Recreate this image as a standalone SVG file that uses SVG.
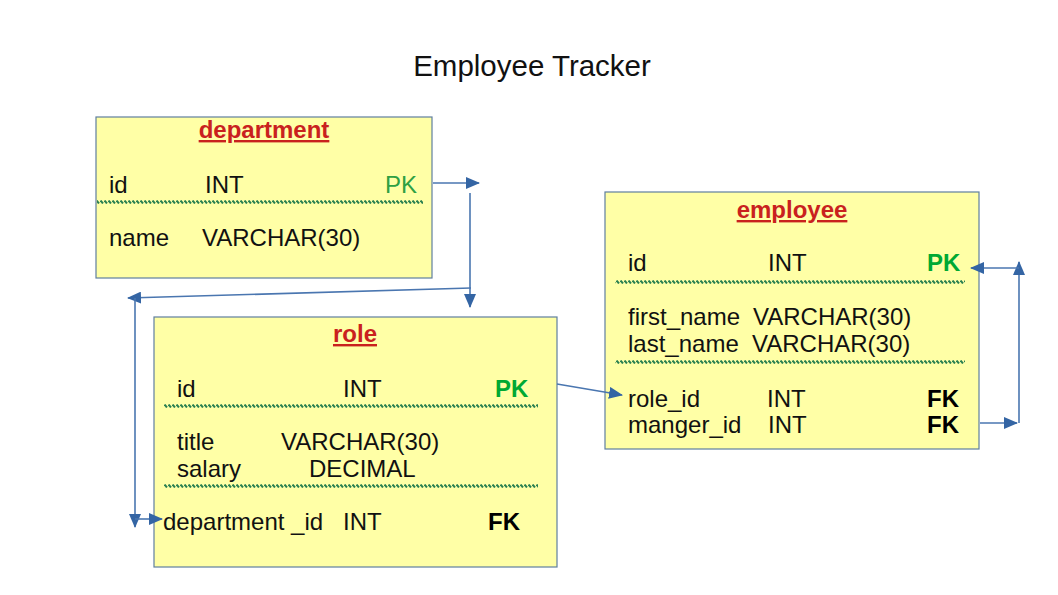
<svg xmlns="http://www.w3.org/2000/svg" width="1058" height="595" viewBox="0 0 1058 595">
<defs>
<style>
.box{fill:#ffffa6;stroke:#5f7f9f;stroke-width:1.2}
.t{font-family:"Liberation Sans",Arial,sans-serif;font-size:24px;fill:#111}
.h{font-family:"Liberation Sans",Arial,sans-serif;font-size:24px;font-weight:bold;fill:#c9211e;text-decoration:underline;text-anchor:middle}
.pk{fill:#00a933;font-weight:bold}
.pkn{fill:#2ea043}
.fk{font-weight:bold;fill:#000}
.sep{fill:url(#hatch)}
.c{fill:none;stroke:#4a76b0;stroke-width:1.6;marker-end:url(#ah)}
</style>
<pattern id="hatch" patternUnits="userSpaceOnUse" width="4" height="4">
<line x1="0.5" y1="0.5" x2="3" y2="3.5" stroke="#2a8050" stroke-width="2"/>
</pattern>
<marker id="ah" markerUnits="userSpaceOnUse" markerWidth="14" markerHeight="12" refX="13" refY="6" orient="auto">
<path d="M0,0 L14,6 L0,12 Z" fill="#3465a4"/>
</marker>
</defs>
<rect width="1058" height="595" fill="#ffffff"/>
<text x="532" y="76" font-family="Liberation Sans, Arial, sans-serif" font-size="29.5" text-anchor="middle" fill="#111">Employee Tracker</text>

<g id="department">
<rect class="box" x="96" y="117" width="336" height="161"/>
<text class="h" x="264" y="138">department</text>
<text class="t" x="109" y="193">id</text>
<text class="t" x="205" y="193">INT</text>
<text class="t pkn" x="385" y="193">PK</text>
<rect class="sep" x="97" y="200" width="326" height="4"/>
<text class="t" x="109" y="246">name</text>
<text class="t" x="202" y="246">VARCHAR(30)</text>
</g>

<g id="role">
<rect class="box" x="154" y="317" width="403" height="250"/>
<text class="h" x="355" y="342">role</text>
<text class="t" x="177" y="397">id</text>
<text class="t" x="343" y="397">INT</text>
<text class="t pk" x="495" y="397">PK</text>
<rect class="sep" x="164" y="404" width="374" height="4"/>
<text class="t" x="177" y="450">title</text>
<text class="t" x="281" y="450">VARCHAR(30)</text>
<text class="t" x="177" y="477">salary</text>
<text class="t" x="309" y="477">DECIMAL</text>
<rect class="sep" x="164" y="484" width="374" height="4"/>
<text class="t" x="163" y="530">department _id</text>
<text class="t" x="343" y="530">INT</text>
<text class="t fk" x="488" y="530">FK</text>
</g>

<g id="employee">
<rect class="box" x="605" y="192" width="374" height="257"/>
<text class="h" x="792" y="218">employee</text>
<text class="t" x="628" y="271">id</text>
<text class="t" x="768" y="271">INT</text>
<text class="t pk" x="927" y="271">PK</text>
<rect class="sep" x="615" y="280" width="350" height="4"/>
<text class="t" x="628" y="325">first_name</text>
<text class="t" x="753" y="325">VARCHAR(30)</text>
<text class="t" x="628" y="352">last_name</text>
<text class="t" x="752" y="352">VARCHAR(30)</text>
<rect class="sep" x="615" y="360" width="350" height="4"/>
<text class="t" x="628" y="407">role_id</text>
<text class="t" x="767" y="407">INT</text>
<text class="t fk" x="927" y="407">FK</text>
<text class="t" x="628" y="433">manger_id</text>
<text class="t" x="768" y="433">INT</text>
<text class="t fk" x="927" y="433">FK</text>
</g>

<g id="connectors">
<path class="c" d="M433,183 H479"/>
<path class="c" d="M470,193 V307"/>
<path class="c" d="M471,288 L128,298"/>
<path class="c" d="M135,298 V527"/>
<path class="c" d="M135,519 H162"/>
<path class="c" d="M557,384 L622,395"/>
<path class="c" d="M980,423 H1017"/>
<path class="c" d="M1019,423 V262"/>
<path class="c" d="M1019,268 H971"/>
</g>
</svg>
